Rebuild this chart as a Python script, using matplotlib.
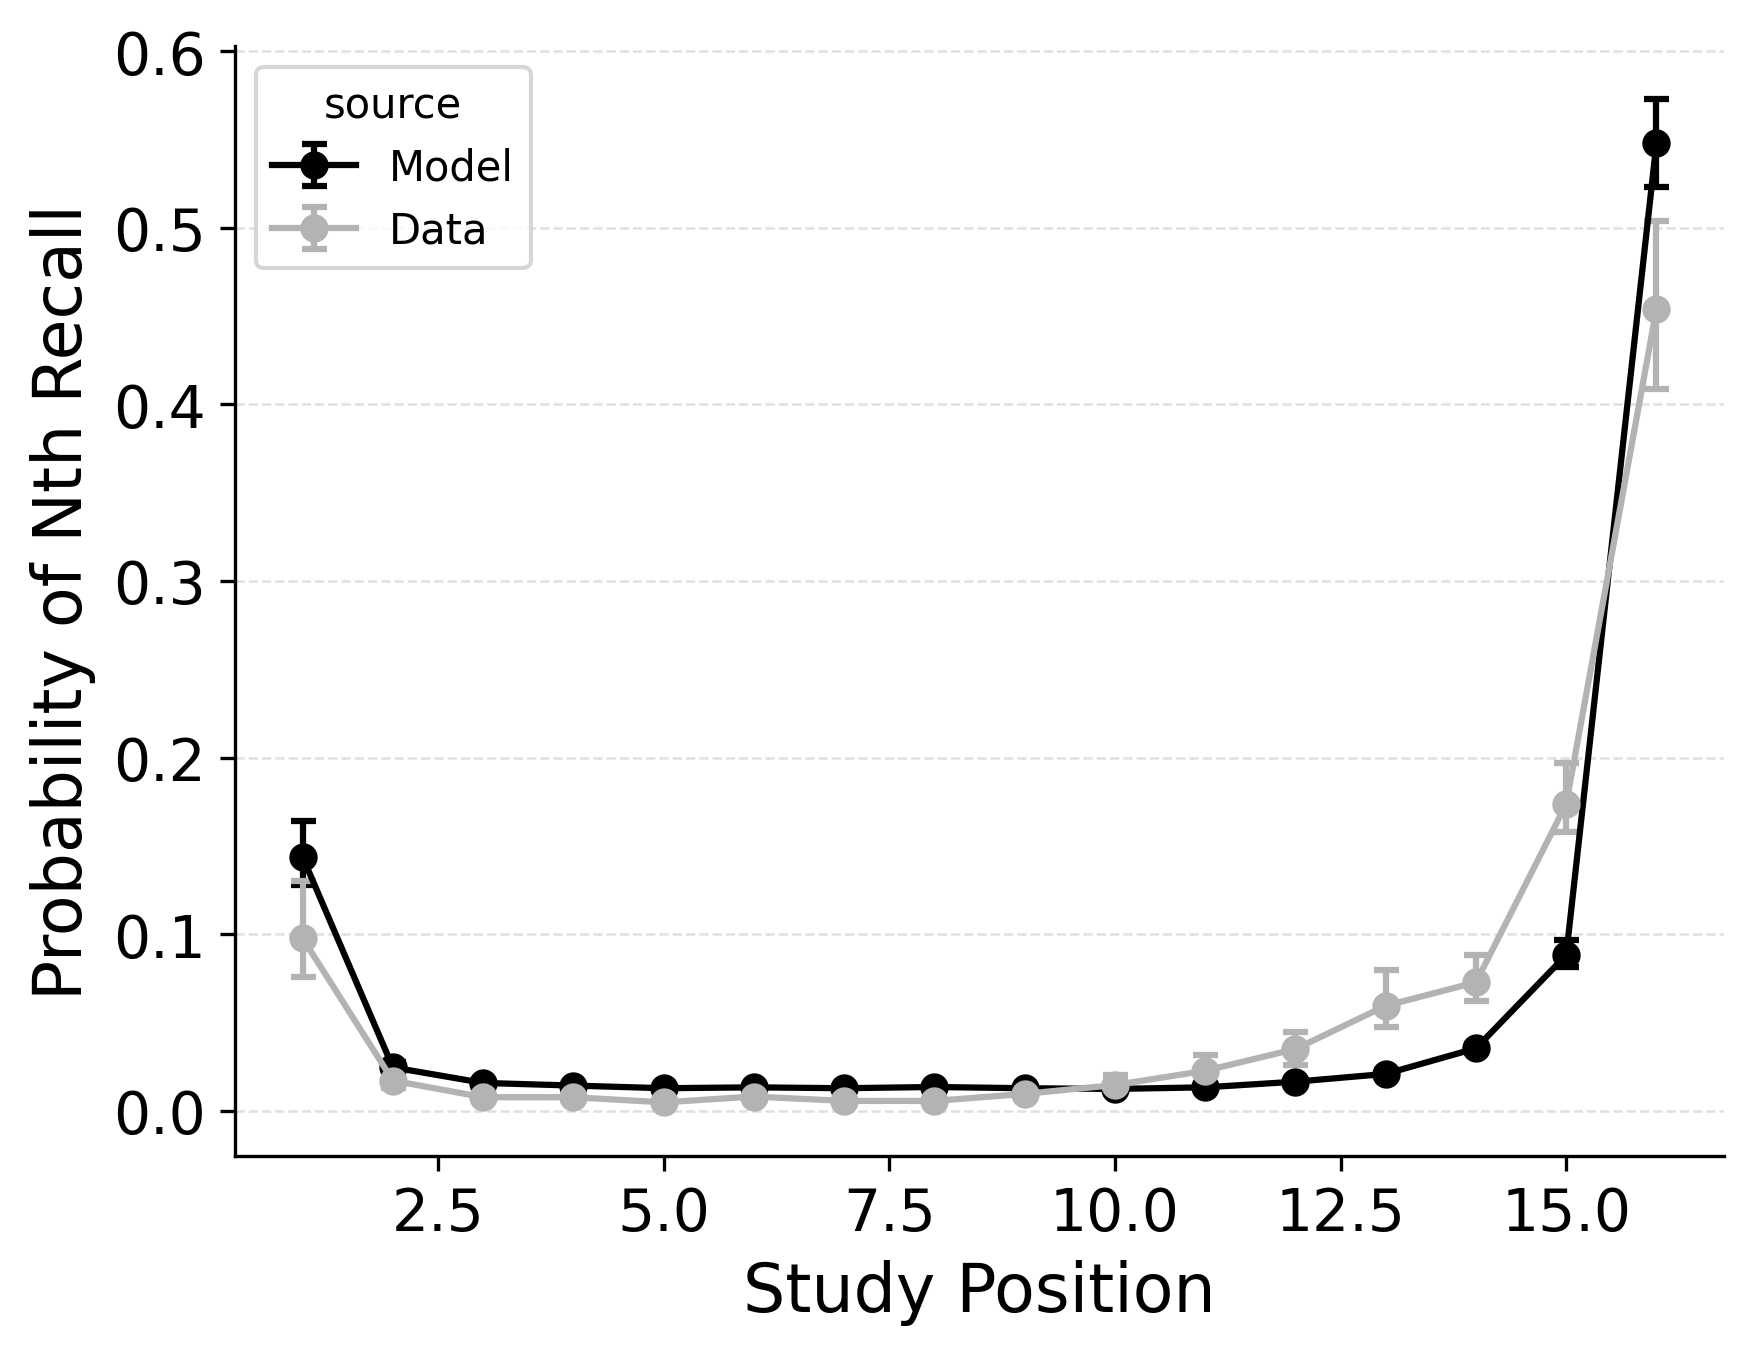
import matplotlib
matplotlib.use("Agg")
import matplotlib.pyplot as plt
import numpy as np

positions = list(range(1, 17))

model_mean = [0.1436, 0.0245, 0.0157, 0.0142, 0.0127, 0.0132, 0.0127, 0.0134,
              0.0127, 0.0123, 0.0132, 0.0164, 0.0208, 0.0353, 0.0881, 0.548]
model_lower = [0.128, 0.0215, 0.014, 0.0127, 0.0113, 0.0118, 0.0113, 0.012,
               0.0113, 0.0110, 0.0118, 0.0148, 0.019, 0.0330, 0.0812, 0.523]
model_upper = [0.164, 0.0275, 0.0175, 0.0157, 0.0141, 0.0146, 0.0141, 0.0148,
               0.0141, 0.0136, 0.0146, 0.0180, 0.023, 0.0378, 0.0968, 0.573]

data_mean = [0.0976, 0.017, 0.0076, 0.0076, 0.0047, 0.0080, 0.0055, 0.0055,
             0.0095, 0.0145, 0.0226, 0.0349, 0.0594, 0.0727, 0.1736, 0.454]
data_lower = [0.0755, 0.013, 0.0055, 0.0055, 0.0030, 0.0058, 0.0037, 0.0037,
              0.0072, 0.0100, 0.0155, 0.0260, 0.0475, 0.0619, 0.1576, 0.409]
data_upper = [0.130, 0.021, 0.0098, 0.0098, 0.0068, 0.0102, 0.0075, 0.0075,
              0.0118, 0.0202, 0.0317, 0.0444, 0.0798, 0.0881, 0.197, 0.5038]

fig = plt.figure(figsize=(1752 / 300, 1356 / 300), dpi=300)
ax = fig.add_axes([0.1341, 0.147, 0.850, 0.8181])

def yerr(mean, lo, hi):
    m = np.array(mean)
    return [m - np.array(lo), np.array(hi) - m]

ax.errorbar(positions, model_mean, yerr=yerr(model_mean, model_lower, model_upper),
            color="black", marker="o", markersize=5.8, linewidth=1.5,
            elinewidth=1.5, capsize=3, capthick=1.5, label="Model")
ax.errorbar(positions, data_mean, yerr=yerr(data_mean, data_lower, data_upper),
            color="#b3b3b3", marker="o", markersize=5.8, linewidth=1.5,
            elinewidth=1.5, capsize=3, capthick=1.5, label="Data")

ax.set_xlim(0.25, 16.75)
ax.set_ylim(-0.0255, 0.6028)
ax.set_xticks([2.5, 5.0, 7.5, 10.0, 12.5, 15.0])
ax.set_yticks([0.0, 0.1, 0.2, 0.3, 0.4, 0.5, 0.6])
ax.tick_params(labelsize=14)
ax.set_xlabel("Study Position", fontsize=16)
ax.set_ylabel("Probability of Nth Recall", fontsize=16)
ax.grid(axis="y", linestyle="--", color="#e0e0e0", linewidth=0.6)
ax.set_axisbelow(True)
ax.spines["top"].set_visible(False)
ax.spines["right"].set_visible(False)

leg = ax.legend(title="source", loc="upper left", fontsize=10, title_fontsize=10)

fig.savefig("out.png", dpi=300)
